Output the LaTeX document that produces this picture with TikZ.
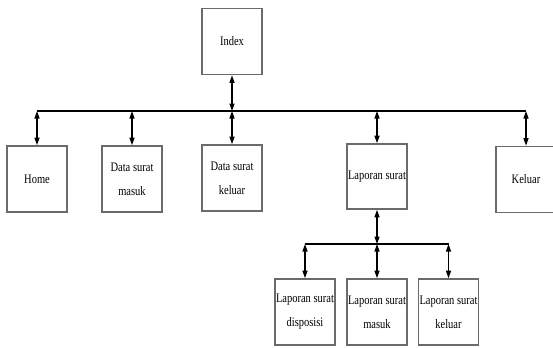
\documentclass[tikz,border=0pt]{standalone}
\usepackage{fontspec}
\setmainfont{Liberation Serif}[FakeStretch=0.81]
\usetikzlibrary{arrows.meta}
\begin{document}
\begin{tikzpicture}[x=1bp,y=-1bp,
  box/.style={draw=black!58,line width=1.6bp,fill=white,minimum width=60bp,minimum height=66bp,
    inner sep=0pt,align=center,font=\fontsize{13}{24}\selectfont},
  link/.style={line width=1.3bp,{Triangle[length=7.5bp,width=5bp]}-{Triangle[length=7.5bp,width=5bp]}},
  bus/.style={line width=1.3bp}]
\useasboundingbox (0,0) rectangle (553,347);
\node[box] (index) at (232,41.5) {Index};
\node[box] (home) at (37,179) {Home};
\node[box] (dsm) at (132,179) {Data surat\\masuk};
\node[box] (dsk) at (232,178) {Data surat\\keluar};
\node[box,minimum height=65bp] (lap) at (377,176.5) {Laporan surat};
\node[box] (kel) at (526,179.5) {Keluar};
\node[box,minimum height=66bp] (lsd) at (305,312) {Laporan surat\\disposisi};
\node[box,minimum height=66bp] (lsm) at (377,312) {Laporan surat\\masuk};
\node[box,minimum height=66bp] (lsk) at (448.5,312) {Laporan surat\\keluar};
\coordinate (busL) at (37,111);
\coordinate (busR) at (526,111);
\coordinate (subL) at (305,244);
\coordinate (subR) at (448.5,244);
\draw[bus] (busL) -- (busR);
\draw[bus] (subL) -- (subR);
\draw[link] (index.south) -- (index.south |- busL);
\foreach \n in {home,dsm,dsk,lap,kel}
  \draw[link] (\n.north |- busL) -- (\n.north);
\draw[link] (lap.south) -- (lap.south |- subL);
\foreach \n in {lsd,lsm,lsk}
  \draw[link] (\n.north |- subL) -- (\n.north);
\end{tikzpicture}
\end{document}
